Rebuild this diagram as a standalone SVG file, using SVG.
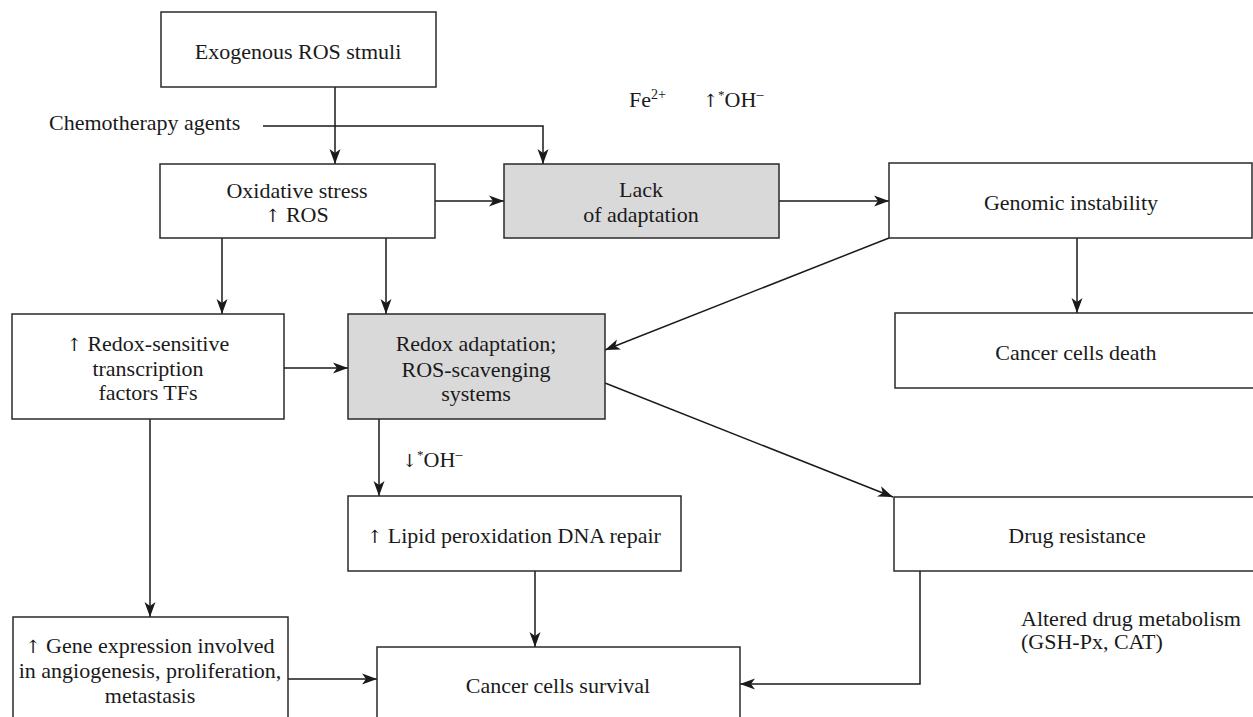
<svg xmlns="http://www.w3.org/2000/svg" width="1253" height="717" viewBox="0 0 1253 717" font-family="'Liberation Serif', 'DejaVu Serif', serif">
<style>
.box{fill:#fff;stroke:#2a2a2a;stroke-width:1.5}
.grey{fill:#d9d9d9;stroke:#2a2a2a;stroke-width:1.5}
text{font-family:'Liberation Serif','DejaVu Serif',serif;font-size:22px;fill:#1a1a1a}
.c{text-anchor:middle}
.ar{font-family:'DejaVu Serif','DejaVu Sans',serif;font-size:18px}
.conn{fill:none;stroke:#1a1a1a;stroke-width:1.5}
.arr{marker-end:url(#ah)}
</style>
<defs>
<marker id="ah" markerUnits="userSpaceOnUse" markerWidth="16" markerHeight="12" viewBox="0 0 16 12" refX="15" refY="6" orient="auto">
<path d="M0,0.5 L15,6 L0,11.5 L4,6 Z" fill="#1a1a1a"/>
</marker>
</defs>
<rect width="1253" height="717" fill="#fff"/>
<g id="connectors">
<line class="conn arr" x1="335" y1="87" x2="335" y2="164"/>
<path class="conn arr" d="M263,126 H543 V164"/>
<line class="conn arr" x1="435" y1="201" x2="504" y2="201"/>
<line class="conn arr" x1="779" y1="201" x2="889" y2="201"/>
<line class="conn arr" x1="1077" y1="238" x2="1077" y2="313"/>
<line class="conn arr" x1="889" y1="238" x2="605" y2="350"/>
<line class="conn arr" x1="222" y1="238" x2="222" y2="314"/>
<line class="conn arr" x1="386" y1="238" x2="386" y2="314"/>
<line class="conn arr" x1="284" y1="368" x2="348" y2="368"/>
<line class="conn arr" x1="379" y1="419" x2="379" y2="496"/>
<line class="conn arr" x1="605" y1="383" x2="893" y2="497"/>
<line class="conn arr" x1="150" y1="419" x2="150" y2="617"/>
<line class="conn arr" x1="535" y1="571" x2="535" y2="647"/>
<line class="conn arr" x1="288" y1="679" x2="377" y2="679"/>
<path class="conn arr" d="M920,571 V684 H740"/>
</g>
<g id="n-exogenous">
<rect class="box" x="161" y="12" width="275" height="75"/>
<text class="c" x="298" y="59">Exogenous ROS stmuli</text>
</g>
<g id="t-chemo">
<text x="49" y="130">Chemotherapy agents</text>
</g>
<g id="n-oxidative">
<rect class="box" x="160" y="164" width="275" height="74"/>
<text class="c" x="297" y="198">Oxidative stress</text>
<text class="c" x="297" y="222"><tspan class="ar">↑</tspan> ROS</text>
</g>
<g id="n-lack">
<rect class="grey" x="504" y="164" width="275" height="74"/>
<text class="c" x="641" y="197">Lack</text>
<text class="c" x="641" y="222">of adaptation</text>
</g>
<g id="t-fe">
<text x="629" y="107">Fe<tspan font-size="14" dy="-8">2+</tspan></text>
<text x="703" y="107"><tspan class="ar">↑</tspan><tspan font-size="13" dy="-8">*</tspan><tspan dy="8">OH</tspan><tspan font-size="14" dy="-8">–</tspan></text>
</g>
<g id="n-genomic">
<rect class="box" x="889" y="163" width="363" height="75"/>
<text class="c" x="1071" y="210">Genomic instability</text>
</g>
<g id="n-death">
<rect class="box" x="895" y="313" width="370" height="75"/>
<text class="c" x="1076" y="360">Cancer cells death</text>
</g>
<g id="n-redoxsens">
<rect class="box" x="12" y="314" width="272" height="105"/>
<text class="c" x="148" y="351"><tspan class="ar">↑</tspan> Redox-sensitive</text>
<text class="c" x="148" y="376">transcription</text>
<text class="c" x="148" y="400">factors TFs</text>
</g>
<g id="n-redoxadapt">
<rect class="grey" x="348" y="314" width="257" height="105"/>
<text class="c" x="476" y="351">Redox adaptation;</text>
<text class="c" x="476" y="377">ROS-scavenging</text>
<text class="c" x="476" y="401">systems</text>
</g>
<g id="t-oh-down">
<text x="402" y="467"><tspan class="ar">↓</tspan><tspan font-size="13" dy="-8">*</tspan><tspan dy="8">OH</tspan><tspan font-size="14" dy="-8">–</tspan></text>
</g>
<g id="n-lipid">
<rect class="box" x="348" y="496" width="333" height="75"/>
<text class="c" x="514" y="543"><tspan class="ar">↑</tspan> Lipid peroxidation DNA repair</text>
</g>
<g id="n-drug">
<rect class="box" x="894" y="497" width="370" height="74"/>
<text class="c" x="1077" y="543">Drug resistance</text>
</g>
<g id="t-altered">
<text x="1021" y="626">Altered drug metabolism</text>
<text x="1021" y="649">(GSH-Px, CAT)</text>
</g>
<g id="n-gene">
<rect class="box" x="13" y="617" width="275" height="110"/>
<text class="c" x="150" y="653"><tspan class="ar">↑</tspan> Gene expression involved</text>
<text class="c" x="150" y="678">in angiogenesis, proliferation,</text>
<text class="c" x="150" y="703">metastasis</text>
</g>
<g id="n-survival">
<rect class="box" x="377" y="647" width="363" height="80"/>
<text class="c" x="558" y="693">Cancer cells survival</text>
</g>
</svg>
